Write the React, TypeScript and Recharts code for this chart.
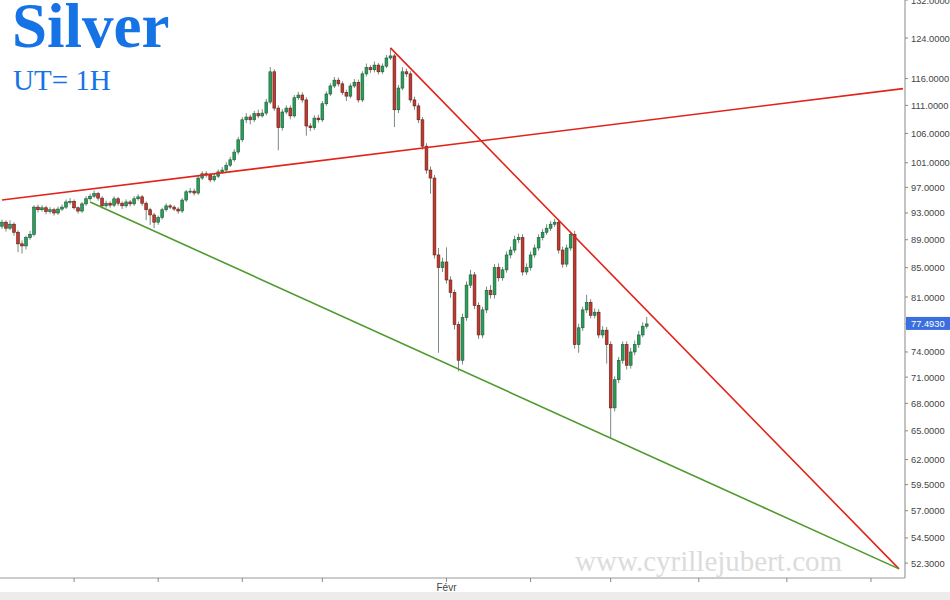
import React from 'react';
import { ComposedChart, Bar, Line, XAxis, YAxis } from 'recharts';

// hourly candles: [open, high, low, close]
const ohlc: [number, number, number, number][] = [
  [91.0, 92.0, 90.6, 91.6], [91.6, 91.9, 90.2, 90.7], [90.7, 91.9, 90.4, 91.3], [91.3, 91.6, 89.6, 90.1],
  [90.1, 90.4, 87.2, 88.4], [88.4, 88.9, 87.0, 88.1], [88.1, 89.6, 87.6, 89.3], [89.3, 90.3, 89.0, 89.8],
  [89.8, 94.2, 89.5, 93.9], [93.9, 94.3, 93.1, 93.5], [93.5, 94.2, 93.2, 93.8], [93.8, 94.1, 92.8, 93.2],
  [93.2, 93.9, 92.9, 93.5], [93.5, 93.8, 92.6, 93.0], [93.0, 94.0, 92.7, 93.6], [93.6, 94.3, 93.3, 93.9],
  [93.9, 95.1, 93.6, 94.7], [94.7, 95.3, 94.3, 94.8], [94.8, 95.1, 93.5, 93.8], [93.8, 94.0, 92.9, 93.3],
  [93.3, 94.7, 93.0, 94.4], [94.4, 95.6, 94.1, 95.2], [95.2, 96.0, 94.9, 95.6], [95.6, 96.5, 95.3, 96.0],
  [96.0, 96.3, 94.9, 95.3], [95.3, 95.6, 93.7, 94.1], [94.1, 94.9, 93.8, 94.5], [94.5, 94.8, 93.8, 94.2],
  [94.2, 95.6, 93.9, 95.2], [95.2, 95.5, 94.1, 94.5], [94.5, 94.8, 93.6, 94.1], [94.1, 95.1, 93.8, 94.7],
  [94.7, 95.0, 94.0, 94.4], [94.4, 95.6, 94.1, 95.2], [95.2, 95.9, 94.9, 95.5], [95.5, 95.8, 94.1, 94.5],
  [94.5, 94.8, 91.9, 93.5], [93.5, 93.8, 91.2, 92.7], [92.7, 93.0, 90.7, 91.6], [91.6, 92.6, 91.2, 92.3],
  [92.3, 93.8, 92.0, 93.5], [93.5, 94.5, 93.2, 94.1], [94.1, 94.4, 93.6, 93.9], [93.9, 94.2, 93.3, 93.6],
  [93.6, 93.9, 92.9, 93.3], [93.3, 95.3, 93.0, 95.0], [95.0, 96.6, 94.7, 96.3], [96.3, 96.9, 96.0, 96.4],
  [96.4, 96.8, 95.7, 96.1], [96.1, 98.9, 95.8, 98.5], [98.5, 99.6, 98.2, 99.2], [99.2, 99.6, 98.6, 99.0],
  [99.0, 99.3, 97.8, 98.2], [98.2, 99.2, 97.9, 98.8], [98.8, 99.9, 98.5, 99.5], [99.5, 100.3, 99.2, 99.8],
  [99.8, 101.1, 99.5, 100.6], [100.6, 102.0, 100.3, 101.5], [101.5, 103.3, 101.2, 102.8], [102.8, 105.4, 102.4, 104.9],
  [104.9, 108.9, 104.5, 108.4], [108.4, 109.6, 107.8, 108.9], [108.9, 109.3, 107.6, 108.4], [108.4, 110.0, 108.0, 109.5],
  [109.5, 110.2, 108.7, 109.1], [109.1, 110.3, 108.8, 109.6], [109.6, 112.2, 109.2, 111.6], [111.6, 118.2, 111.2, 117.3],
  [117.3, 117.8, 110.0, 110.5], [110.5, 111.0, 103.1, 107.0], [107.0, 110.3, 106.5, 109.8], [109.8, 111.0, 109.4, 110.5],
  [110.5, 111.0, 108.5, 109.1], [109.1, 112.9, 108.8, 112.4], [112.4, 113.5, 112.0, 112.9], [112.9, 113.4, 111.5, 112.0],
  [112.0, 112.5, 105.6, 107.3], [107.3, 107.8, 106.4, 107.0], [107.0, 109.2, 106.6, 108.7], [108.7, 109.3, 107.9, 108.4],
  [108.4, 111.8, 108.0, 111.3], [111.3, 113.6, 110.9, 113.1], [113.1, 115.1, 112.7, 114.6], [114.6, 116.3, 114.2, 115.7],
  [115.7, 116.2, 114.5, 115.0], [115.0, 115.5, 112.9, 113.4], [113.4, 113.9, 111.8, 112.7], [112.7, 115.1, 112.3, 114.6],
  [114.6, 115.9, 114.2, 115.3], [115.3, 115.8, 111.5, 112.0], [112.0, 117.4, 111.6, 116.9], [116.9, 118.9, 116.4, 118.1],
  [118.1, 118.6, 117.1, 117.7], [117.7, 119.3, 117.2, 118.6], [118.6, 119.0, 116.8, 117.3], [117.3, 118.9, 116.9, 118.4],
  [118.4, 120.6, 118.0, 120.0], [120.0, 122.0, 119.6, 120.4], [120.4, 120.8, 107.1, 110.2], [110.2, 114.8, 109.6, 114.2],
  [114.2, 118.2, 113.8, 117.3], [117.3, 117.9, 116.3, 116.9], [116.9, 117.4, 111.5, 112.0], [112.0, 112.6, 110.2, 110.9],
  [110.9, 111.4, 107.8, 108.4], [108.4, 108.9, 103.2, 103.8], [103.8, 104.3, 99.2, 99.8], [99.8, 100.4, 96.0, 98.5],
  [98.5, 99.0, 86.3, 86.8], [86.8, 87.8, 73.9, 85.0], [85.0, 86.4, 84.4, 85.8], [85.8, 87.9, 82.8, 83.3],
  [83.3, 83.8, 80.9, 81.6], [81.6, 82.0, 76.8, 77.4], [77.4, 77.8, 71.7, 73.0], [73.0, 78.8, 72.5, 78.3],
  [78.3, 83.1, 77.9, 82.6], [82.6, 84.7, 82.2, 84.0], [84.0, 84.4, 79.4, 79.9], [79.9, 80.3, 75.6, 76.1],
  [76.1, 79.7, 75.7, 79.3], [79.3, 82.4, 78.9, 81.9], [81.9, 82.6, 80.8, 81.3], [81.3, 85.5, 80.8, 85.0],
  [85.0, 85.6, 83.1, 83.6], [83.6, 85.1, 83.2, 84.7], [84.7, 87.3, 84.3, 86.8], [86.8, 88.0, 86.3, 87.5],
  [87.5, 89.6, 87.1, 89.0], [89.0, 89.9, 88.5, 89.3], [89.3, 89.8, 83.9, 84.4], [84.4, 85.6, 84.0, 85.0],
  [85.0, 87.3, 84.6, 86.8], [86.8, 88.3, 86.4, 87.8], [87.8, 89.8, 87.4, 89.3], [89.3, 90.6, 88.9, 90.1],
  [90.1, 91.3, 89.7, 90.7], [90.7, 91.8, 90.3, 91.3], [91.3, 92.1, 90.9, 91.6], [91.6, 92.0, 87.0, 87.5],
  [87.5, 88.0, 85.0, 85.5], [85.5, 88.3, 85.1, 87.8], [87.8, 90.2, 87.4, 89.8], [89.8, 90.3, 74.4, 74.9],
  [74.9, 77.5, 73.9, 77.0], [77.0, 79.7, 76.6, 79.3], [79.3, 81.3, 78.9, 80.3], [80.3, 80.7, 78.2, 78.6],
  [78.6, 79.5, 78.2, 79.0], [79.0, 79.4, 75.7, 76.1], [76.1, 77.2, 75.7, 76.7], [76.7, 77.1, 72.6, 74.9],
  [74.9, 75.3, 64.2, 67.5], [67.5, 71.1, 67.1, 70.7], [70.7, 73.4, 70.3, 73.0], [73.0, 75.3, 72.6, 74.9],
  [74.9, 75.3, 71.9, 72.4], [72.4, 74.5, 72.0, 74.0], [74.0, 75.4, 73.6, 74.9], [74.9, 76.6, 74.5, 76.1],
  [76.1, 77.7, 75.8, 77.2], [77.2, 78.4, 76.9, 77.493],
];

// hour slots on the x axis, including the empty future part on the right
const slotCount = 226;

// drawn trend lines: [slot, price]
const upperLine: [number, number][] = [[0, 95.0], [225, 114.1]];
const downLine: [number, number][] = [[97, 122.0], [224, 51.8]];
const supportLine: [number, number][] = [[22, 94.7], [224, 51.8]];

const lastPrice = 77.493;
const priceTicks = [132, 124, 116, 111, 106, 101, 97, 93, 89, 85, 81, 77.493, 74, 71, 68, 65, 62, 59.5, 57, 54.5, 52.3];
const timeTickSlots = [18, 39, 60, 80, 111, 132, 152, 174, 196, 217];
const timeTickLabels = ['', '', '', '', 'Févr', '', '', '', '', ''];

const rows = Array.from({ length: slotCount }, (_, i) => {
  const row: any = { slot: i };
  const c = ohlc[i];
  if (c) {
    row.open = c[0];
    row.high = c[1];
    row.low = c[2];
    row.close = c[3];
    row.range = [c[2], c[1]];
  }
  return row;
});
upperLine.forEach(([s, v]) => (rows[s].upper = v));
downLine.forEach(([s, v]) => (rows[s].down = v));
supportLine.forEach(([s, v]) => (rows[s].support = v));

const sans = "'Liberation Sans', Arial, sans-serif";
const serif = "'Liberation Serif', 'Times New Roman', serif";

function Candle(props: any) {
  const { x, y, width, height, payload } = props;
  if (!payload || payload.open == null || !isFinite(y) || !isFinite(height)) return <g />;
  const top = Math.min(y, y + height);
  const bottom = Math.max(y, y + height);
  const lh = Math.log(payload.high);
  const ll = Math.log(payload.low);
  // position inside the high/low bar, log scale
  const toPx = (v: number) => (lh === ll ? top : top + ((lh - Math.log(v)) / (lh - ll)) * (bottom - top));
  const cx = x + width / 2;
  const up = payload.close >= payload.open;
  const yo = toPx(payload.open);
  const yc = toPx(payload.close);
  const bt = Math.min(yo, yc);
  const bh = Math.max(Math.abs(yc - yo), 1);
  return (
    <g>
      <line x1={cx} x2={cx} y1={top} y2={bottom} stroke="#7b8a80" strokeWidth={1} />
      <rect
        x={cx - 1.4}
        y={bt}
        width={2.8}
        height={bh}
        fill={up ? '#2a9d5b' : '#c23a2d'}
        stroke={up ? '#1b5a36' : '#5e1d18'}
        strokeWidth={0.6}
      />
    </g>
  );
}

function PriceTick(props: any) {
  const { x, y, payload } = props;
  const v = payload.value;
  const label = Number(v).toFixed(4);
  if (Math.abs(v - lastPrice) < 1e-6) {
    return (
      <g>
        <rect x={x - 4} y={y - 7} width={950 - x + 4} height={13} fill="#3b6fe0" />
        <text x={x + 1} y={y + 3.5} fill="#ffffff" fontSize={9.3} fontFamily={sans} textAnchor="start">
          {label}
        </text>
      </g>
    );
  }
  return (
    <text x={x + 1} y={y + 3.5} fill="#444" fontSize={9.3} fontFamily={sans} textAnchor="start">
      {label}
    </text>
  );
}

function TimeTick(props: any) {
  const { x, y, payload } = props;
  const k = timeTickSlots.indexOf(payload.value);
  if (k < 0) return <g />;
  return (
    <g>
      <line x1={x} x2={x} y1={y - 4} y2={y} stroke="#888" />
      <text x={x} y={y + 9} fill="#444" fontSize={10} fontFamily={sans} textAnchor="middle">
        {timeTickLabels[k]}
      </text>
    </g>
  );
}

export default function App() {
  return (
    <div style={{ position: 'absolute', left: 0, top: 0, width: 950, height: 600, background: '#fff', overflow: 'hidden' }}>
      <ComposedChart
        width={950}
        height={592}
        data={rows}
        margin={{ top: 0, right: 0, bottom: 0, left: 0 }}
        barCategoryGap={0}
      >
        <XAxis
          dataKey="slot"
          type="category"
          interval={0}
          height={14}
          tickLine={false}
          tickSize={4}
          tickMargin={0}
          axisLine={{ stroke: '#999' }}
          tick={(p: any) => <TimeTick {...p} />}
        />
        <YAxis
          orientation="right"
          type="number"
          scale="log"
          domain={[51.03, 132]}
          allowDataOverflow
          ticks={priceTicks}
          interval={0}
          width={45}
          tickSize={3}
          tickMargin={2}
          axisLine={{ stroke: '#888' }}
          tickLine={{ stroke: '#888' }}
          tick={(p: any) => <PriceTick {...p} />}
        />
        <Bar dataKey="range" shape={(p: any) => <Candle {...p} />} isAnimationActive={false} />
        <Line dataKey="upper" stroke="#e2231a" strokeWidth={1.6} dot={false} activeDot={false} connectNulls isAnimationActive={false} />
        <Line dataKey="down" stroke="#e2231a" strokeWidth={1.6} dot={false} activeDot={false} connectNulls isAnimationActive={false} />
        <Line dataKey="support" stroke="#4f9a2c" strokeWidth={1.6} dot={false} activeDot={false} connectNulls isAnimationActive={false} />
      </ComposedChart>
      <div style={{ position: 'absolute', left: 0, top: 592, width: 950, height: 8, background: '#ececec' }} />
      <svg width={950} height={600} style={{ position: 'absolute', left: 0, top: 0, pointerEvents: 'none' }}>
        <text x={12} y={47} fontFamily={serif} fontWeight="bold" fontSize={63} fill="#1673e6">
          Silver
        </text>
        <text x={13} y={90} fontFamily={serif} fontSize={29} fill="#1673e6">
          UT= 1H
        </text>
        <text x={575} y={571} fontFamily={serif} fontSize={29} fill="#dcdcdc">
          www.cyrillejubert.com
        </text>
      </svg>
    </div>
  );
}
